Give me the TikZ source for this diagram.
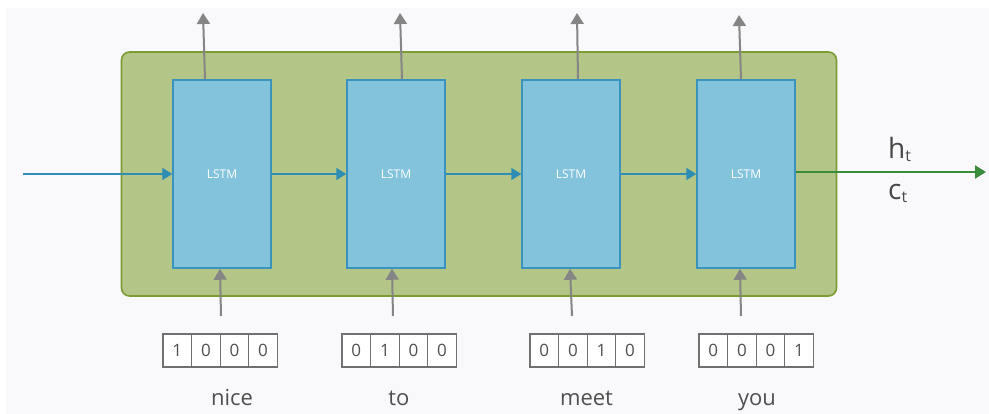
\documentclass[tikz,border=0pt]{standalone}
\usepackage{fontspec}
\setmainfont{Open Sans}
\usetikzlibrary{arrows.meta}
\definecolor{bg}{HTML}{F9F9FB}
\definecolor{gfill}{HTML}{B3C687}
\definecolor{gline}{HTML}{7C9C33}
\definecolor{bfill}{HTML}{83C3DC}
\definecolor{bline}{HTML}{3A93BC}
\definecolor{barrow}{HTML}{2E8DB5}
\definecolor{garrow}{HTML}{3A8C3A}
\definecolor{grayarr}{HTML}{858585}
\definecolor{txt}{HTML}{505050}
\begin{document}
\begin{tikzpicture}[x=1pt,y=-1pt,
  greenbox/.style={draw=gline, fill=gfill, line width=1.6pt, rounded corners=8pt,
    minimum width=715pt, minimum height=244pt, inner sep=0pt},
  lstm/.style={draw=bline, fill=bfill, line width=1.5pt, minimum width=98pt,
    minimum height=188pt, inner sep=0pt, text=white, font=\fontsize{12}{12}\selectfont},
  cell/.style={draw=grayarr!85!black, fill=white, line width=1.2pt, minimum width=28.6pt,
    minimum height=33pt, inner sep=0pt, outer sep=0pt, anchor=west, text=txt,
    font=\fontsize{17}{17}\selectfont},
  word/.style={text=txt, anchor=base, font=\fontsize{22}{22}\selectfont, inner sep=0pt},
  grayarrow/.style={draw=grayarr, line width=2pt, -{Triangle[width=13pt,length=11pt]}},
  bluearrow/.style={draw=barrow, line width=1.7pt, -{Triangle[width=12pt,length=10pt]}},
  greenarrow/.style={draw=garrow, line width=2pt, -{Triangle[width=13pt,length=11pt]}},
  lbl/.style={text=txt!90!black, anchor=base west, inner sep=0pt, font=\fontsize{28}{28}\selectfont}
]
\useasboundingbox (0,0) rectangle (989,414);
\fill[white] (0,0) rectangle (989,414);
\fill[bg] (6,8) rectangle (989,414);

\node[greenbox] (frame) at (479,174) {};

\node[lstm] (l1) at (222,174) {LSTM};
\node[lstm] (l2) at (396,174) {LSTM};
\node[lstm] (l3) at (571,174) {LSTM};
\node[lstm] (l4) at (746,174) {LSTM};

% up arrows
\coordinate (u1) at (203,13);
\coordinate (u2) at (400,13);
\coordinate (u3) at (577,13);
\coordinate (u4) at (739,15);
\draw[grayarrow] ([xshift=-17pt]l1.north) -- (u1);
\draw[grayarrow] ([xshift=6pt]l2.north) -- (u2);
\draw[grayarrow] ([xshift=7pt]l3.north) -- (u3);
\draw[grayarrow] ([xshift=-5pt]l4.north) -- (u4);

% horizontal
\coordinate (in) at (23,174);
\coordinate (out) at (986,172);
\draw[bluearrow] (in) -- (l1.west);
\draw[bluearrow] (l1.east) -- (l2.west);
\draw[bluearrow] (l2.east) -- (l3.west);
\draw[bluearrow] (l3.east) -- (l4.west);
\draw[greenarrow] (l4.east |- out) -- (out);

\node[lbl] (h) at (888,159) {h{\fontsize{16}{16}\selectfont\raisebox{-3pt}{t}}};
\node[lbl] (c) at (888,200) {c{\fontsize{16}{16}\selectfont\raisebox{-3pt}{t}}};

% one-hot vectors
\foreach \v/\x/\a/\b/\c/\d in {1/163/1/0/0/0, 2/342/0/1/0/0, 3/530/0/0/1/0, 4/699/0/0/0/1}{
  \node[cell] (v\v a) at (\x,350.5) {\a};
  \node[cell] (v\v b) at (v\v a.east) {\b};
  \node[cell] (v\v c) at (v\v b.east) {\c};
  \node[cell] (v\v d) at (v\v c.east) {\d};
}

% bottom arrows
\coordinate (s1) at (221,316);
\coordinate (s2) at (393,316);
\coordinate (s3) at (572,316);
\coordinate (s4) at (741,316);
\draw[grayarrow] (s1) -- ([xshift=-2pt]l1.south);
\draw[grayarrow] (s2) -- ([xshift=-4pt]l2.south);
\draw[grayarrow] (s3) -- ([xshift=-1pt]l3.south);
\draw[grayarrow] (s4) -- ([xshift=-6pt]l4.south);

\node[word] (w1) at (232,405) {nice};
\node[word] (w2) at (399,405) {to};
\node[word] (w3) at (586.5,405) {meet};
\node[word] (w4) at (757,405) {you};
\end{tikzpicture}
\end{document}
